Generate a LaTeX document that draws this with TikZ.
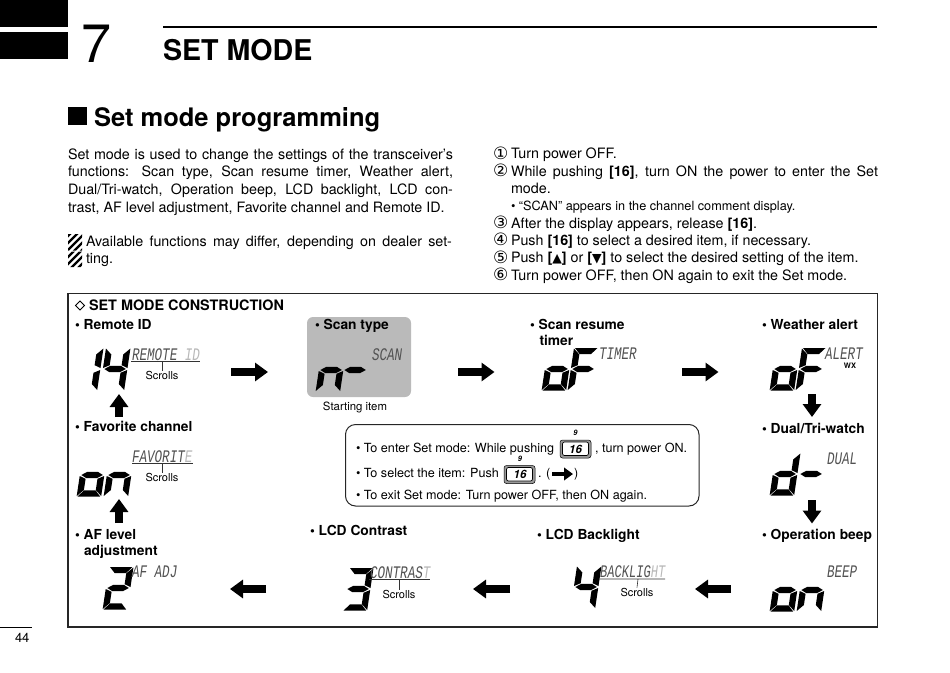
\documentclass[tikz,border=0pt]{standalone}
\usepackage{fontspec}
\usepackage{graphicx}
\usetikzlibrary{arrows.meta}
\setmainfont{TeX Gyre Heros}
\newfontfamily\djfont{DejaVu Sans}
\newfontfamily\lcdfont{Liberation Mono}
\newcommand{\fs}[1]{\fontsize{#1}{#1}\selectfont}
\newcommand{\lcdtxt}[1]{{\lcdfont\itshape\fs{12.6}\color{black!68}\scalebox{1}[1.4]{#1}}}
\newcommand{\fadedc}[1]{\textcolor{black!28}{#1}}
\newcommand{\cn}[1]{{\djfont\fs{17}#1}}
% seven segment digit: segments in local pixels, 24 wide, 42 high
\newcommand{\segA}{\fill (1,0) -- (23.5,0) -- (18,6) -- (6.5,6) -- cycle;}
\newcommand{\segB}{\fill (24.5,0.5) -- (24.5,20) -- (18.2,17.2) -- (18.2,6.5) -- cycle;}
\newcommand{\segC}{\fill (24.5,22) -- (24.5,42) -- (18.2,36) -- (18.2,24.8) -- cycle;}
\newcommand{\segD}{\fill (1,42.5) -- (6.5,36.3) -- (18,36.3) -- (23.5,42.5) -- cycle;}
\newcommand{\segE}{\fill (0,22) -- (6.3,24.8) -- (6.3,36) -- (0,42) -- cycle;}
\newcommand{\segF}{\fill (0,0.5) -- (6.3,6.5) -- (6.3,17.2) -- (0,20) -- cycle;}
\newcommand{\segG}{\fill (1.5,21) -- (7,17.8) -- (17.5,17.8) -- (23,21) -- (17.5,24.2) -- (7,24.2) -- cycle;}
\newcommand{\lcddigit}[3]{\begin{scope}[shift={(#1,#2)},xslant=0.15]#3\end{scope}}
\tikzset{
 txt/.style={anchor=base west,inner sep=0pt,outer sep=0pt,font=\fs{14.3}},
 side/.style={txt,font=\fs{14.3}},
 lab/.style={txt,font=\bfseries\fs{13.8}},
 small/.style={txt,font=\fs{12.7}},
 boxt/.style={txt,font=\fs{12.6}},
 scr/.style={anchor=base,inner sep=0pt,font=\fs{11}},
 lcd/.style={anchor=base west,inner sep=0pt,outer sep=0pt},
 blockar/.style={line width=7.5pt,-{Triangle[length=13pt,width=18pt]},shorten >=0pt},
 thinl/.style={line width=0.6pt,black!80},
 keyo/.style={draw=black,fill=black!40,line width=0.5pt,rounded corners=2.5pt},
 keyi/.style={fill=white,draw=black,line width=0.7pt,rounded corners=2pt},
 keyt/.style={anchor=center,inner sep=0pt,font=\bfseries\itshape\fs{11.5}},
 keyn/.style={anchor=center,inner sep=0pt,font=\bfseries\itshape\fs{7.5}},
}
\begin{document}
\begin{tikzpicture}[x=1pt,y=-1pt]
\useasboundingbox (0,0) rectangle (950,672);
% header
\fill (0,0) rectangle (68,27);
\fill (0,32) rectangle (68,59);
\node[txt,font=\fs{54}] (chap) at (81,62) {7};
\draw[line width=1.6pt] (163,27) -- (877,27);
\node[txt,font=\bfseries\fs{28.6}] (title) at (163,60) {SET MODE};
\fill (68,107) rectangle (87,125);
\node[txt,font=\bfseries\fs{25.5}] (head) at (94,126) {Set mode programming};
% left text
\node[txt] (l1) at (68,159) {\makebox[385pt][s]{Set mode is used to change the settings of the transceiver’s}};
\node[txt] (l2) at (68,176.5) {\makebox[385pt][s]{functions: Scan type, Scan resume timer, Weather alert,}};
\node[txt] (l3) at (68,194) {\makebox[385pt][s]{Dual/Tri-watch, Operation beep, LCD backlight, LCD con-}};
\node[txt] (l4) at (68,212) {trast, AF level adjustment, Favorite channel and Remote ID.};
\begin{scope}
\clip (68,234) rectangle (82,250.5) (68,251.5) rectangle (82,267);
\foreach \yy in {238,245,...,290}{\draw[line width=2.3pt] (66,\yy) -- (84,\yy-18);}
\end{scope}
\node[txt] (n1) at (86,246) {\makebox[366pt][s]{Available functions may differ, depending on dealer set-}};
\node[txt] (n2) at (86,263.5) {ting.};
% right text
\node[side] (c1) at (493,159) {\cn{①}};
\node[side] (r1) at (511,158.5) {Turn power OFF.};
\node[side] (c2) at (493,176.5) {\cn{②}};
\node[side] (r2) at (511,176) {\makebox[367pt][s]{While pushing \textbf{[16]}, turn ON the power to enter the Set}};
\node[side] (r2b) at (511,193.5) {mode.};
\node[small] (r2c) at (511,210) {• “SCAN” appears in the channel comment display.};
\node[side] (c3) at (493,228.5) {\cn{③}};
\node[side] (r3) at (511,228) {After the display appears, release \textbf{[16]}.};
\node[side] (c4) at (493,245.5) {\cn{④}};
\node[side] (r4) at (511,245) {Push \textbf{[16]} to select a desired item, if necessary.};
\node[side] (c5) at (493,263) {\cn{⑤}};
\node[side] (r5) at (511,262.5) {Push \textbf{[{\djfont\fs{12.5}▲}]} or \textbf{[{\djfont\fs{12.5}▼}]} to select the desired setting of the item.};
\node[side] (c6) at (493,280.5) {\cn{⑥}};
\node[side] (r6) at (511,280) {Turn power OFF, then ON again to exit the Set mode.};
% main frame
\draw[line width=1.3pt,black!85] (68,293.5) rectangle (877.5,627);
\draw[line width=1pt] (80,301) -- (84.5,305.5) -- (80,310) -- (75.5,305.5) -- cycle;
\node[txt,font=\bfseries\fs{14.4}] (cons) at (89,310) {SET MODE CONSTRUCTION};
\fill[black!27,rounded corners=6pt] (307,317) rectangle (411,397);
% labels
\node[lab] (remote) at (75,329) {• Remote ID};
\node[lab] (scan) at (315,329) {• Scan type};
\node[lab] (res1) at (530,329) {• Scan resume};
\node[lab] (res2) at (539.5,345) {timer};
\node[lab] (wx) at (762,329) {• Weather alert};
\node[lab] (fav) at (75,431) {• Favorite channel};
\node[lab] (dual) at (762,433.5) {• Dual/Tri-watch};
\node[lab] (af1) at (75,539) {• AF level};
\node[lab] (af2) at (84,555) {adjustment};
\node[lab] (contrast) at (310,535) {• LCD Contrast};
\node[lab] (back) at (537,539) {• LCD Backlight};
\node[lab] (beep) at (762,539) {• Operation beep};
\node[anchor=base,inner sep=0pt,font=\fs{11.4}] (start) at (355,410) {Starting item};
% digits
\lcddigit{79}{348}{\segB\segC}
\lcddigit{106}{348}{\segF\segG\segB\segC}
\lcddigit{322}{349}{\segG\segE\segC}
\lcddigit{346}{349}{\segG}
\lcddigit{548}{348}{\segG\segC\segD\segE}
\lcddigit{574}{348}{\segA\segF\segG\segE}
\lcddigit{776}{348}{\segG\segC\segD\segE}
\lcddigit{802}{348}{\segA\segF\segG\segE}
\lcddigit{776}{453}{\segB\segC\segD\segE\segG}
\lcddigit{802}{453}{\segG}
\lcddigit{776}{569}{\segG\segC\segD\segE}
\lcddigit{803}{569}{\segG\segE\segC}
\lcddigit{83}{454}{\segG\segC\segD\segE}
\lcddigit{110}{454}{\segG\segE\segC}
\lcddigit{109}{567}{\segA\segB\segG\segE\segD}
\lcddigit{349}{568}{\segA\segB\segG\segC\segD}
\lcddigit{577}{566}{\segF\segG\segB\segC}
% lcd text
\node[lcd] (t1) at (132,360) {\lcdtxt{REMOTE \fadedc{ID}}};
\node[lcd] (t2) at (372,360) {\lcdtxt{SCAN}};
\node[lcd] (t3) at (599,359) {\lcdtxt{TIMER}};
\node[lcd] (t4) at (825,359) {\lcdtxt{ALERT}};
\node[anchor=base,inner sep=0pt,font=\bfseries\fs{7.5}] (wxs) at (850,368) {WX};
\node[lcd] (t5) at (827,464) {\lcdtxt{DUAL}};
\node[lcd] (t6) at (827,577) {\lcdtxt{BEEP}};
\node[lcd] (t7) at (132,462) {\lcdtxt{FAVORIT\fadedc{E}}};
\node[lcd] (t8) at (132,577) {\lcdtxt{AF ADJ}};
\node[lcd] (t9) at (370,578) {\lcdtxt{CONTRAS\fadedc{T}}};
\node[lcd] (t10) at (600,577) {\lcdtxt{\scalebox{0.96}[1]{BACKLIG\fadedc{HT}}}};
% scroll marks
\node[scr] (s1) at (162,379) {Scrolls};
\draw[thinl] (131,361.5) -- (200,361.5) (162,361.5) -- (s1.north);
\node[scr] (s2) at (162,481) {Scrolls};
\draw[thinl] (132,463.5) -- (193,463.5) (162,463.5) -- (s2.north);
\node[scr] (s3) at (399,598) {Scrolls};
\draw[thinl] (369,579.5) -- (430,579.5) (399,579.5) -- (s3.north);
\node[scr] (s4) at (637,596) {Scrolls};
\draw[thinl] (599,579) -- (665,579) (638,579) -- (s4.north);
% arrows
\foreach \nm/\ax/\ay/\bx/\by in {
 a/231/372/268/372, b/458/372/494.5/372, c/682/372/718.5/372,
 d/812/394/812/417, e/812/500/812/523.5,
 f/731/589/695/589, g/510/589/473/589, h/266/589/230/589,
 i/119/523/119/499, j/119/417/119/394}{
 \coordinate (\nm s) at (\ax,\ay);
 \coordinate (\nm t) at (\bx,\by);
 \draw[blockar] (\nm s) -- (\nm t);
}
% rounded help box
\draw[line width=1pt,black!85,rounded corners=10pt] (345.5,424.5) rectangle (699,506);
\node[boxt] (b1) at (356,452) {• To enter Set mode: While pushing};
\node[boxt] (b1b) at (595,452) {, turn power ON.};
\node[boxt] (b2) at (356,477) {• To select the item: Push};
\node[boxt] (b2b) at (538,477) {. (};
\node[boxt] (b2c) at (574,477) {)};
\node[boxt] (b3) at (356,499) {• To exit Set mode: Turn power OFF, then ON again.};
\draw[keyo] (560,440) rectangle (591,458);
\draw[keyi] (562.5,442) rectangle (588.5,455.5);
\node[keyt] (k1) at (575.5,449) {16};
\node[keyn] (k1n) at (575.5,433) {9};
\draw[keyo] (504,465.5) rectangle (535,483.5);
\draw[keyi] (506.5,467.5) rectangle (532.5,481);
\node[keyt] (k2) at (520,474.5) {16};
\node[keyn] (k2n) at (520,459) {9};
\coordinate (ins) at (552,474);
\coordinate (int) at (573,474);
\draw[line width=3.8pt,-{Triangle[length=9pt,width=12.5pt]}] (ins) -- (int);
% page number
\draw[line width=0.5pt] (0,627) -- (32,627);
\node[txt,font=\fs{13}] (pg) at (15,642) {44};
\end{tikzpicture}
\end{document}
